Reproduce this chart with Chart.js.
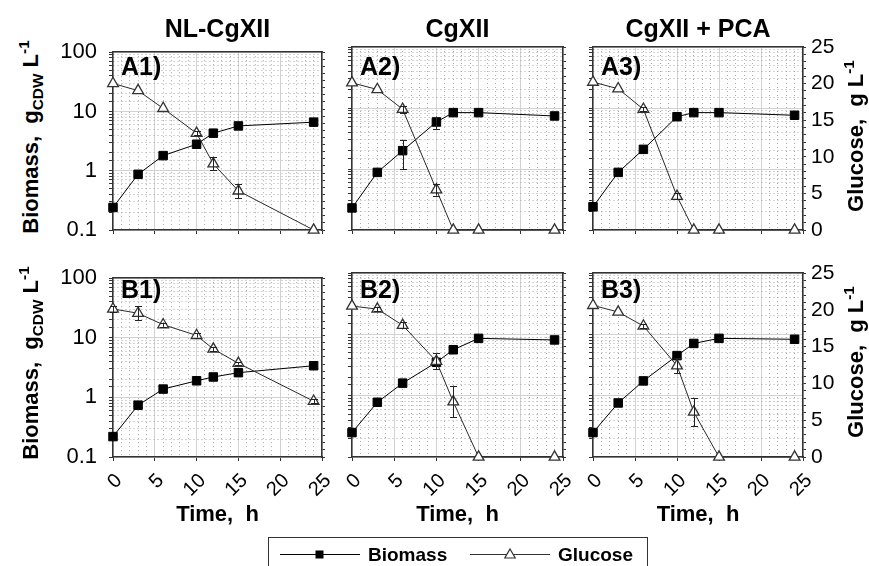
<!DOCTYPE html>
<html><head><meta charset="utf-8">
<script src="https://cdn.jsdelivr.net/npm/chart.js@4.4.1/dist/chart.umd.min.js"></script>
<style>
body{margin:0;background:#fff;}
#wrap{position:relative;width:869px;height:566px;overflow:hidden;font-family:"Liberation Sans",Arial,sans-serif;color:#000;background:#fff;}
canvas{position:absolute;}
.t{position:absolute;font-weight:bold;white-space:pre;line-height:1;}
.ctr{text-align:center;width:300px;}
.rot{position:absolute;font-weight:bold;white-space:pre;line-height:1;transform:translate(-50%,-50%) rotate(-90deg);font-size:22px;}
sub{font-size:70%;vertical-align:-0.3em;line-height:0;}
sup{font-size:70%;vertical-align:0.6em;line-height:0;}
</style></head>
<body>
<div id="wrap"></div>
<script>
// ---------------- data ----------------
const times = [0, 3, 6, 10, 12, 15, 24];
const columnTitles = ['NL-CgXII', 'CgXII', 'CgXII + PCA'];
const panelLabels = ['A1)', 'A2)', 'A3)', 'B1)', 'B2)', 'B3)'];
const xTickValues = [0, 5, 10, 15, 20, 25];
const yLeftTickValues = [0.1, 1, 10, 100];
const yRightTickValues = [0, 5, 10, 15, 20, 25];

const biomassA1 = [0.24, 0.87, 1.8, 2.8, 4.3, 5.7, 6.6];
const biomassErrA1 = [0, 0, 0, 0, 0, 0, 0];
const glucoseA1 = [20.6, 19.6, 17.1, 13.6, 9.3, 5.5, 0];
const glucoseErrA1 = [0, 0, 0, 0.3, 0.9, 1.0, 0];

const biomassA2 = [0.23, 0.88, 2.0, 5.9, 8.4, 8.4, 7.4];
const biomassErrA2 = [0, 0, 1.0, 1.35, 0, 0, 0];
const glucoseA2 = [20.1, 19.2, 16.5, 5.5, 0, 0, 0];
const glucoseErrA2 = [0, 0, 0.5, 0.8, 0, 0, 0];

const biomassA3 = [0.24, 0.88, 2.1, 7.2, 8.4, 8.4, 7.6];
const biomassErrA3 = [0, 0, 0, 0, 0, 0, 0];
const glucoseA3 = [20.2, 19.3, 16.5, 4.6, 0, 0, 0];
const glucoseErrA3 = [0, 0, 0.3, 0.4, 0, 0, 0];

const biomassB1 = [0.22, 0.74, 1.38, 1.9, 2.2, 2.6, 3.4];
const biomassErrB1 = [0, 0, 0, 0, 0, 0, 0];
const glucoseB1 = [20.7, 20.1, 18.5, 17.0, 15.1, 13.1, 7.8];
const glucoseErrB1 = [0.4, 1.0, 0.3, 0.3, 0.3, 0.2, 0.3];

const biomassB2 = [0.25, 0.78, 1.6, 3.5, 5.6, 8.6, 8.1];
const biomassErrB2 = [0, 0, 0, 0, 0, 0, 0];
const glucoseB2 = [20.5, 20.1, 17.9, 13.0, 7.5, 0, 0];
const glucoseErrB2 = [0, 0.3, 0.4, 1.1, 2.1, 0, 0];

const biomassB3 = [0.25, 0.76, 1.74, 4.5, 7.1, 8.6, 8.3];
const biomassErrB3 = [0, 0, 0, 0, 0, 0, 0];
const glucoseB3 = [20.6, 19.7, 17.8, 12.4, 6.1, 0, 0];
const glucoseErrB3 = [0, 0, 0.3, 1.0, 1.9, 0, 0];

// ---------------- layout ----------------
const colLeft = [113, 352, 593], colWidth = [209, 211, 210];
const rowTop = [47, 273], rowHeight = [183, 184];
const M = {l: 60, r: 60, t: 20, b: 50};
const MAJOR = '#d2d2d2', MINOR = '#ababab', AXIS = '#333', NONE = 'rgba(0,0,0,0)';

const wrap = document.getElementById('wrap');
function addDiv(cls, html, style) {
  const d = document.createElement('div');
  d.className = cls; d.innerHTML = html;
  Object.assign(d.style, style);
  wrap.appendChild(d);
  return d;
}

Chart.defaults.font.family = '"Liberation Sans", Arial, sans-serif';
Chart.defaults.color = '#000';

const errorBars = {
  id: 'errorBars',
  afterDatasetsDraw(chart) {
    const ctx = chart.ctx;
    chart.data.datasets.forEach((ds, i) => {
      if (!ds.errors) return;
      const meta = chart.getDatasetMeta(i);
      const sc = chart.scales[ds.yAxisID];
      ctx.save();
      ctx.strokeStyle = '#222';
      ctx.lineWidth = 1;
      ds.errors.forEach((e, j) => {
        if (!e) return;
        const pt = meta.data[j];
        const v = ds.data[j].y;
        const yHi = sc.getPixelForValue(v + e);
        const lo = v - e > sc.min ? v - e : sc.min;
        const yLo = sc.getPixelForValue(lo);
        const x = Math.round(pt.x) + 0.5;
        ctx.beginPath();
        ctx.moveTo(x, yHi); ctx.lineTo(x, yLo);
        ctx.moveTo(x - 3.5, Math.round(yHi) + 0.5); ctx.lineTo(x + 3.5, Math.round(yHi) + 0.5);
        ctx.moveTo(x - 3.5, Math.round(yLo) + 0.5); ctx.lineTo(x + 3.5, Math.round(yLo) + 0.5);
        ctx.stroke();
      });
      ctx.restore();
    });
  }
};

function isDecade(v) { const l = Math.log10(v); return Math.abs(l - Math.round(l)) < 1e-6; }
function isTick(list, v) { return list.some(t => Math.abs(t - v) < 1e-6); }

function makePanel(row, col, biomass, biomassErr, glucose, glucoseErr) {
  const cv = document.createElement('canvas');
  const W = colWidth[col] + M.l + M.r, H = rowHeight[row] + M.t + M.b;
  cv.width = W; cv.height = H;
  cv.style.left = (colLeft[col] - M.l) + 'px';
  cv.style.top = (rowTop[row] - M.t) + 'px';
  cv.style.width = W + 'px'; cv.style.height = H + 'px';
  wrap.appendChild(cv);
  const showLeft = col === 0, showRight = col === 2, showX = row === 1;
  new Chart(cv, {
    type: 'scatter',
    data: {
      datasets: [
        {
          label: 'Glucose', yAxisID: 'y1',
          data: times.map((t, i) => ({x: t, y: glucose[i]})),
          errors: glucoseErr,
          showLine: true, borderColor: '#2a2a2a', borderWidth: 1,
          pointStyle: 'triangle', pointRadius: 6.2, pointBackgroundColor: '#fff',
          pointBorderColor: '#333', pointBorderWidth: 1.3, clip: false
        },
        {
          label: 'Biomass', yAxisID: 'y',
          data: times.map((t, i) => ({x: t, y: biomass[i]})),
          errors: biomassErr,
          showLine: true, borderColor: '#000', borderWidth: 1,
          pointStyle: 'rect', pointRadius: 6, pointBackgroundColor: '#000',
          pointBorderColor: '#000', pointBorderWidth: 1, clip: false
        }
      ]
    },
    options: {
      responsive: false, animation: false, devicePixelRatio: 1,
      layout: {padding: {top: M.t, left: 0, right: 0, bottom: 0}},
      plugins: {legend: {display: false}, tooltip: {enabled: false}},
      scales: {
        x: {
          type: 'linear', position: 'bottom', min: 0, max: 25,
          ticks: {stepSize: 1, autoSkip: false, display: showX, minRotation: 45, maxRotation: 45,
            font: {size: 20}, color: '#000', padding: 8, labelOffset: 6,
            callback: v => isTick(xTickValues, v) ? String(v) : ''},
          grid: {color: c => (c.tick && isTick(xTickValues, c.tick.value)) ? MAJOR : MINOR,
            tickColor: c => (c.tick && isTick(xTickValues, c.tick.value)) ? AXIS : NONE,
            tickLength: 4, lineWidth: 1},
          border: {color: AXIS, width: 1.5, dash: c => (c.tick && !isTick(xTickValues, c.tick.value)) ? [1, 3] : []},
          afterFit: s => { s.height = M.b; }
        },
        xTop: {
          type: 'linear', position: 'top', min: 0, max: 25,
          ticks: {display: false}, grid: {display: false},
          border: {color: AXIS, width: 1.5},
          afterFit: s => { s.height = 0; }
        },
        y: {
          type: 'logarithmic', position: 'left', min: 0.1, max: 100,
          ticks: {display: showLeft, autoSkip: false, font: {size: 22}, color: '#000', padding: 12,
            callback: v => isTick(yLeftTickValues, v) ? (v < 1 ? '0.1' : String(Math.round(v))) : ''},
          grid: {color: c => (c.tick && isDecade(c.tick.value)) ? MAJOR : MINOR,
            tickColor: AXIS, tickLength: 4, lineWidth: 1},
          border: {color: AXIS, width: 1.5, dash: c => (c.tick && !isDecade(c.tick.value)) ? [1, 3] : []},
          afterFit: s => { s.width = M.l; }
        },
        y1: {
          type: 'linear', position: 'right', min: 0, max: 25,
          ticks: {display: showRight, stepSize: 1, autoSkip: false, font: {size: 21}, color: '#000', padding: 5,
            callback: v => isTick(yRightTickValues, v) ? String(v) : ''},
          grid: {drawOnChartArea: false, tickColor: AXIS, tickLength: 3},
          border: {color: AXIS, width: 1.5},
          afterFit: s => { s.width = M.r; }
        }
      }
    },
    plugins: [errorBars]
  });
  // panel label
  addDiv('t', panelLabels[row * 3 + col], {left: (colLeft[col] + 8) + 'px', top: (rowTop[row] + (row ? 4 : 7)) + 'px', fontSize: '25px'});
}

makePanel(0, 0, biomassA1, biomassErrA1, glucoseA1, glucoseErrA1);
makePanel(0, 1, biomassA2, biomassErrA2, glucoseA2, glucoseErrA2);
makePanel(0, 2, biomassA3, biomassErrA3, glucoseA3, glucoseErrA3);
makePanel(1, 0, biomassB1, biomassErrB1, glucoseB1, glucoseErrB1);
makePanel(1, 1, biomassB2, biomassErrB2, glucoseB2, glucoseErrB2);
makePanel(1, 2, biomassB3, biomassErrB3, glucoseB3, glucoseErrB3);

// column titles and x-axis titles
for (let c = 0; c < 3; c++) {
  const cx = colLeft[c] + colWidth[c] / 2;
  addDiv('t ctr', columnTitles[c], {left: (cx - 150) + 'px', top: '16px', fontSize: '25px'});
  addDiv('t ctr', 'Time,  h', {left: (cx - 150) + 'px', top: '503px', fontSize: '22px'});
}
// y-axis titles
for (let r = 0; r < 2; r++) {
  const cy = rowTop[r] + rowHeight[r] / 2;
  addDiv('rot', 'Biomass,  g<sub>CDW</sub> L<sup>-1</sup>', {left: '31px', top: (cy - 2) + 'px'});
  addDiv('rot', 'Glucose,  g L<sup>-1</sup>', {left: '856px', top: (cy - 3) + 'px'});
}
// legend
addDiv('t', '', {left: '268px', top: '537px', width: '378px', height: '40px', border: '1px solid #333'});
const svgNS = 'http://www.w3.org/2000/svg';
const svg = document.createElementNS(svgNS, 'svg');
svg.setAttribute('width', '869'); svg.setAttribute('height', '566');
svg.style.position = 'absolute'; svg.style.left = '0'; svg.style.top = '0';
svg.innerHTML =
  '<line x1="280" y1="554.5" x2="360" y2="554.5" stroke="#000" stroke-width="1"/>' +
  '<rect x="315.5" y="550.5" width="8" height="8" fill="#000"/>' +
  '<line x1="470" y1="554.5" x2="550" y2="554.5" stroke="#333" stroke-width="1"/>' +
  '<polygon points="510,549 515.2,558 504.8,558" fill="#fff" stroke="#333" stroke-width="1.2"/>';
wrap.appendChild(svg);
addDiv('t', 'Biomass', {left: '368px', top: '545px', fontSize: '19px'});
addDiv('t', 'Glucose', {left: '558px', top: '545px', fontSize: '19px'});
</script>
</body></html>
